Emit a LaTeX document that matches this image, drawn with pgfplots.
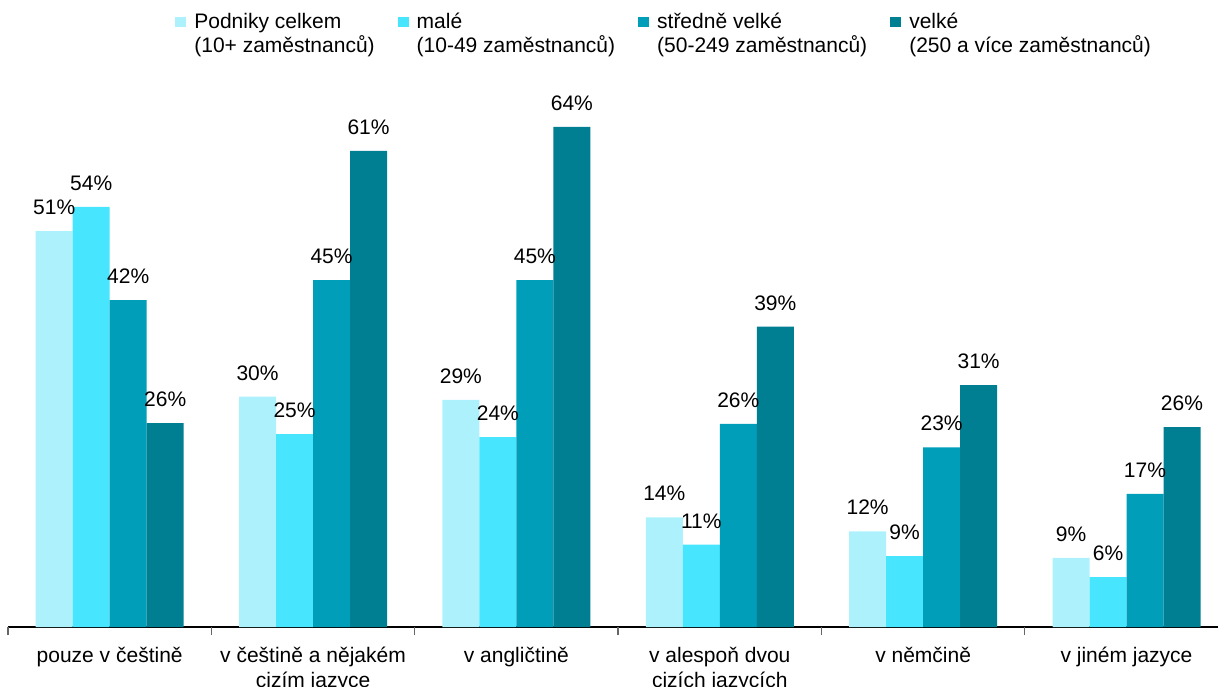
\documentclass[border=0pt]{standalone}
\usepackage{pgfplots}
\pgfplotsset{compat=1.18}
\usepackage{fontspec}
\setmainfont{Liberation Sans}
\definecolor{c1}{RGB}{173,241,253}
\definecolor{c2}{RGB}{72,229,254}
\definecolor{c3}{RGB}{0,158,184}
\definecolor{c4}{RGB}{0,126,146}
\newcommand{\ff}{\fontsize{10.5}{12.5}\selectfont}
\newcommand{\fl}{\fontsize{10.5}{12}\selectfont}
\begin{document}
\begin{tikzpicture}
\begin{axis}[
  scale only axis,
  width=605pt, height=291.75pt,
  xmin=-0.5, xmax=5.45, ymin=0, ymax=75,
  enlargelimits=false, clip=false,
  ybar=0pt, bar width=18.5pt,
  axis x line*=bottom, axis y line=none,
  x axis line style={black, line width=0.7pt},
  xtick={0,...,5},
  xticklabels={pouze v češtině, v češtině a nějakém\\cizím jazyce, v angličtině, v alespoň dvou\\cizích jazycích, v němčině, v jiném jazyce},
  xticklabel style={font=\ff, align=center, yshift=-6.5pt},
  major tick length=0pt,
  extra x ticks={-0.5,0.5,1.5,2.5,3.5,4.5},
  extra x tick labels={},
  extra x tick style={major tick length=4pt, tick align=outside, tick style={gray!80!black, line width=0.6pt}},
  ytick=\empty,
  point meta=explicit symbolic,
  nodes near coords={\pgfplotspointmeta\%},
  every node near coord/.append style={font=\ff, black, inner sep=0pt, yshift=8pt},
  legend columns=4,
  legend style={at={(0.138,1.059)}, anchor=north west, draw=none, fill=none, inner sep=0pt, font=\fl,
    cells={align=left, inner sep=0pt},
    /tikz/every odd column/.append style={column sep=2pt},
    /tikz/every even column/.append style={column sep=9.5pt}},
  legend image code/.code={\fill[#1] (0pt,3.7pt) rectangle (5.5pt,8.7pt);},
]
\addplot[fill=c1, draw=none] coordinates {(0,50.9)[51] (1,29.6)[30] (2,29.2)[29] (3,14.1)[14] (4,12.3)[12] (5,8.9)[9]};
\addplot[fill=c2, draw=none] coordinates {(0,54.0)[54] (1,24.8)[25] (2,24.4)[24] (3,10.6)[11] (4,9.1)[9] (5,6.4)[6]};
\addplot[fill=c3, draw=none] coordinates {(0,42.0)[42] (1,44.6)[45] (2,44.6)[45] (3,26.1)[26] (4,23.1)[23] (5,17.1)[17]};
\addplot[fill=c4, draw=none] coordinates {(0,26.2)[26] (1,61.2)[61] (2,64.3)[64] (3,38.6)[39] (4,31.1)[31] (5,25.7)[26]};
\addlegendentry{Podniky celkem\\(10+ zaměstnanců)}
\addlegendentry{malé\\(10-49 zaměstnanců)}
\addlegendentry{středně velké\\(50-249 zaměstnanců)}
\addlegendentry{velké\\(250 a více zaměstnanců)}
\end{axis}
\pgfresetboundingbox
\path[use as bounding box] (-4pt,-29.5pt) rectangle (605pt,313.5pt);
\end{tikzpicture}
\end{document}
